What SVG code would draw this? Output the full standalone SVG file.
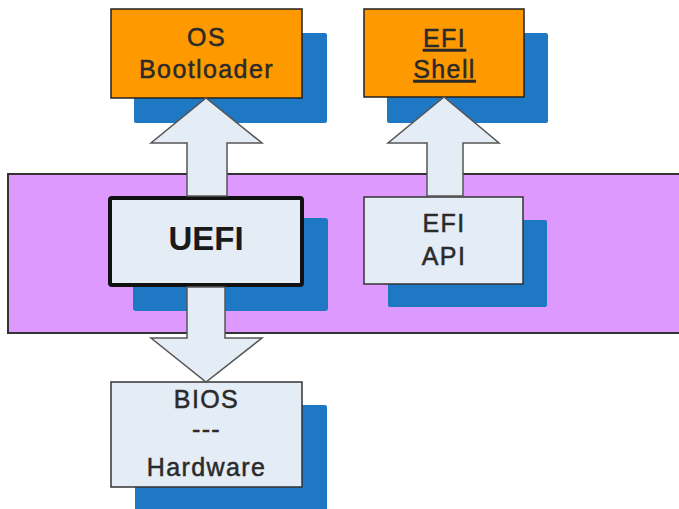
<svg xmlns="http://www.w3.org/2000/svg" width="679" height="509" viewBox="0 0 679 509">
  <style>
    .shadow { fill: #1f78c4; }
    .orange { fill: #ff9900; stroke: #222; stroke-width: 1.5; }
    .light { fill: #e4ecf6; stroke: #333; stroke-width: 1.5; }
    .label { font-family: "Liberation Sans", Arial, sans-serif; font-size: 25px; letter-spacing: 1.4px; text-anchor: middle; fill: #2a2a2a; stroke: #2a2a2a; stroke-width: 0.5px; }
    .arrow { fill: #e4ecf6; stroke: #555; stroke-width: 1.5; stroke-linejoin: miter; }
  </style>
  <rect width="679" height="509" fill="#ffffff"/>

  <g id="uefi-layer">
    <rect x="8" y="174" width="680" height="159" fill="#dd99fd" stroke="#333" stroke-width="2"/>
  </g>

  <g id="os-bootloader">
    <rect class="shadow" x="134" y="33" width="193" height="90" rx="2"/>
    <rect class="orange" x="111" y="9" width="191" height="89"/>
    <text class="label" x="206.5" y="46">OS</text>
    <text class="label" x="206.5" y="78">Bootloader</text>
  </g>

  <g id="efi-shell">
    <rect class="shadow" x="387" y="33" width="161" height="90" rx="2"/>
    <rect class="orange" x="364" y="9" width="160" height="88"/>
    <text class="label" x="444.5" y="47" text-decoration="underline">EFI</text>
    <text class="label" x="444.5" y="78" text-decoration="underline">Shell</text>
  </g>

  <g id="uefi">
    <rect class="shadow" x="133" y="218" width="195" height="93" rx="3"/>
    <rect x="110" y="198" width="192" height="87" rx="2" fill="#e4ecf6" stroke="#111" stroke-width="4"/>
    <text x="206" y="250" font-family="Liberation Sans, Arial, sans-serif" font-size="33" font-weight="bold" text-anchor="middle" fill="#1a1a1a">UEFI</text>
  </g>

  <g id="efi-api">
    <rect class="shadow" x="388" y="220" width="159" height="87" rx="2"/>
    <rect class="light" x="364" y="197" width="159" height="87"/>
    <text class="label" x="444" y="232" font-size="26">EFI</text>
    <text class="label" x="444" y="265" font-size="26">API</text>
  </g>

  <g id="bios-hardware">
    <rect class="shadow" x="135" y="405" width="192" height="110" rx="2"/>
    <rect class="light" x="111" y="382" width="191" height="105"/>
    <text class="label" x="206.5" y="408">BIOS</text>
    <text class="label" x="206.5" y="438">---</text>
    <text class="label" x="206.5" y="476">Hardware</text>
  </g>

  <g id="connectors">
    <!-- UEFI up to OS Bootloader -->
    <path class="arrow" d="M187,196 L187,143 L151,143 L206,98 L262,143 L227,143 L227,196 Z"/>
    <!-- EFI API up to EFI Shell -->
    <path class="arrow" d="M427,196 L427,143 L388,143 L444,97 L499,143 L463,143 L463,196 Z"/>
    <!-- UEFI down to BIOS / Hardware -->
    <path class="arrow" d="M187,287 L187,338 L151,338 L206,382 L262,338 L225,338 L225,287 Z"/>
  </g>
</svg>
